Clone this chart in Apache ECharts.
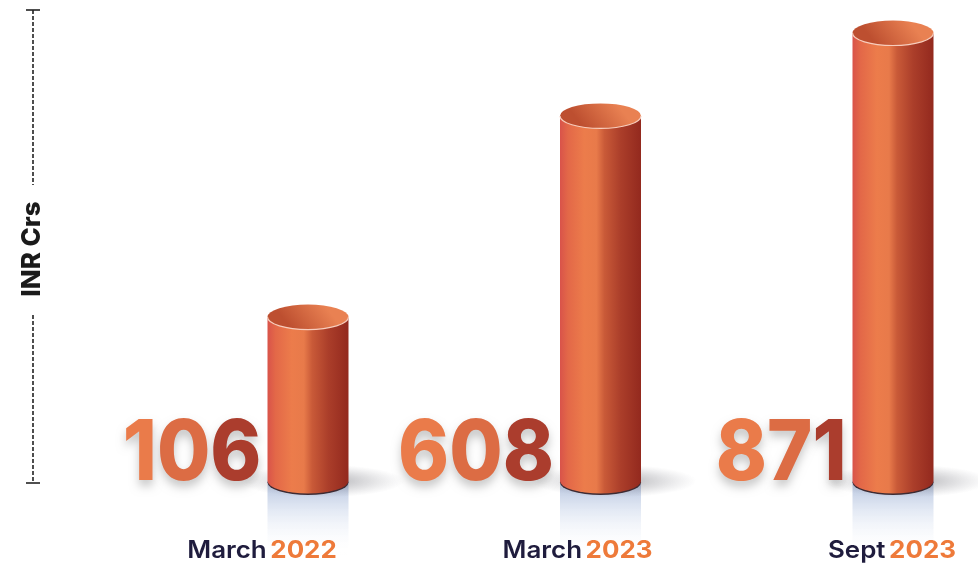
<!DOCTYPE html>
<html>
<head>
<meta charset="utf-8">
<script src="https://cdn.jsdelivr.net/npm/echarts@6/dist/echarts.min.js"></script>
<style>html,body{margin:0;padding:0;background:#fff}#chart{width:978px;height:566px}</style>
</head>
<body>
<div id="chart"></div>
<script>
// ---- data ----
const catMonth = ['March', 'March', 'Sept'];
const catYear = ['2022', '2023', '2023'];
const values = [106, 608, 871];             // INR Crs (printed values)
const barHeights = [36.6, 81.5, 100];       // drawn cylinder heights, % of tallest
const axisName = 'INR Crs';

// ---- layout / style constants ----
const labelDx = [-46, -23, -1];
const RX = 40.5, RY = 12.5;
const digitColors = ['#ea7b4a', '#dc6c44', '#ab3d2d'];

function ellipsePath(cx, cy, rx, ry) {
  return 'M' + (cx - rx) + ' ' + cy + ' A' + rx + ' ' + ry + ' 0 1 0 ' + (cx + rx) + ' ' + cy +
         ' A' + rx + ' ' + ry + ' 0 1 0 ' + (cx - rx) + ' ' + cy + ' Z';
}

const chart = echarts.init(document.getElementById('chart'), null, { renderer: 'canvas' });

const seriesData = barHeights.map((h, i) => [i, h]);

function renderItem(params, api) {
  const i = api.value(0);
  const h = api.value(1);
  const base = api.coord([i, 0]);
  const top = api.coord([i, h]);
  const cx = base[0], by = base[1], ty = top[1];
  const l = cx - RX, r = cx + RX;
  const v = String(values[i]);
  let rich = {};
  let txt = '';
  for (let k = 0; k < v.length; k++) {
    rich['d' + k] = {
      fill: digitColors[k], fontFamily: 'Inter', fontWeight: 800, fontSize: 84, lineHeight: 84,
      textShadowColor: 'rgba(0,0,0,0.22)', textShadowBlur: 10, textShadowOffsetY: 6
    };
    txt += '{d' + k + '|' + v[k] + '}';
  }
  const lx = cx + labelDx[i];
  return {
    type: 'group',
    children: [
      { // reflection
        type: 'rect', shape: { x: l, y: by, width: RX * 2, height: 74 },
        style: { fill: new echarts.graphic.LinearGradient(0, 0, 0, 1, [
          { offset: 0, color: 'rgba(160,178,212,0.8)' },
          { offset: 0.4, color: 'rgba(205,216,236,0.55)' },
          { offset: 1, color: 'rgba(255,255,255,0)' }]) }
      },
      { // floor shadow
        type: 'circle', shape: { cx: cx + 14, cy: by, r: 82 },
        scaleY: 0.2, originX: cx + 14, originY: by,
        style: { fill: new echarts.graphic.RadialGradient(0.5, 0.5, 0.5, [
          { offset: 0, color: 'rgba(50,50,60,0.42)' },
          { offset: 0.6, color: 'rgba(90,90,100,0.18)' },
          { offset: 1, color: 'rgba(120,120,130,0)' }]) }
      },
      { // bottom rim
        type: 'path', shape: { pathData: ellipsePath(cx, by + 1.5, RX, RY) },
        style: { fill: '#3d2b33' }
      },
      { // body
        type: 'path',
        shape: { pathData: 'M' + l + ' ' + ty + ' L' + l + ' ' + by + ' A' + RX + ' ' + RY + ' 0 0 0 ' + r + ' ' + by + ' L' + r + ' ' + ty + ' Z' },
        style: { fill: new echarts.graphic.LinearGradient(0, 0, 1, 0, [
          { offset: 0, color: '#d9534a' },
          { offset: 0.1, color: '#e36848' },
          { offset: 0.3, color: '#ec7c4b' },
          { offset: 0.45, color: '#e87a4a' },
          { offset: 0.55, color: '#c95a38' },
          { offset: 0.75, color: '#ab3e2a' },
          { offset: 1, color: '#93291e' }]) }
      },
      { // top cap
        type: 'path', shape: { pathData: ellipsePath(cx, ty, RX, RY) },
        style: { fill: new echarts.graphic.LinearGradient(0.7, 0, 0.3, 1, [
          { offset: 0, color: '#e98152' },
          { offset: 1, color: '#bd4f30' }]) }
      },
      { // rim highlight
        type: 'path',
        shape: { pathData: 'M' + l + ' ' + ty + ' A' + RX + ' ' + RY + ' 0 0 0 ' + r + ' ' + ty },
        style: { fill: null, stroke: '#f7cdbd', lineWidth: 1.2 }
      },
      { // value label
        type: 'text',
        scaleX: 0.92, originX: l - 6, originY: by - 26,
        style: { text: txt, rich: rich, x: l - 6, y: by - 26, align: 'right', verticalAlign: 'middle' }
      },
      { // category label
        type: 'text',
        scaleX: 1.08, originX: lx, originY: 551,
        style: {
          text: '{m|' + catMonth[i] + '} {y|' + catYear[i] + '}',
          x: lx, y: 551, align: 'center', verticalAlign: 'middle',
          rich: {
            m: { fill: '#1f1c3d', fontFamily: 'Inter', fontWeight: 600, fontSize: 24 },
            y: { fill: '#ee7a3a', fontFamily: 'Inter', fontWeight: 700, fontSize: 24 }
          }
        }
      }
    ]
  };
}

const option = {
  animation: false,
  grid: { left: 308, right: 85, top: 33, bottom: 85 },
  xAxis: {
    type: 'category', data: catMonth.map((m, i) => m + ' ' + catYear[i]),
    boundaryGap: false, show: false
  },
  yAxis: { type: 'value', min: 0, max: 100, show: false },
  graphic: [
    { type: 'line', shape: { x1: 33, y1: 10, x2: 33, y2: 185 }, style: { stroke: '#222', lineWidth: 1.6, lineDash: [4, 2] } },
    { type: 'line', shape: { x1: 33, y1: 315, x2: 33, y2: 483 }, style: { stroke: '#222', lineWidth: 1.6, lineDash: [4, 2] } },
    { type: 'line', shape: { x1: 26, y1: 10, x2: 40, y2: 10 }, style: { stroke: '#222', lineWidth: 1.6 } },
    { type: 'line', shape: { x1: 26, y1: 483, x2: 40, y2: 483 }, style: { stroke: '#222', lineWidth: 1.6 } },
    { type: 'text', x: 32, y: 249, rotation: Math.PI / 2,
      style: { text: axisName, fill: '#1a1a1a', font: '800 26px Inter', align: 'center', verticalAlign: 'middle' } }
  ],
  series: [{
    type: 'custom',
    data: seriesData,
    renderItem: renderItem,
    encode: { x: 0, y: 1 }
  }]
};
chart.setOption(option);
</script>
</body>
</html>
